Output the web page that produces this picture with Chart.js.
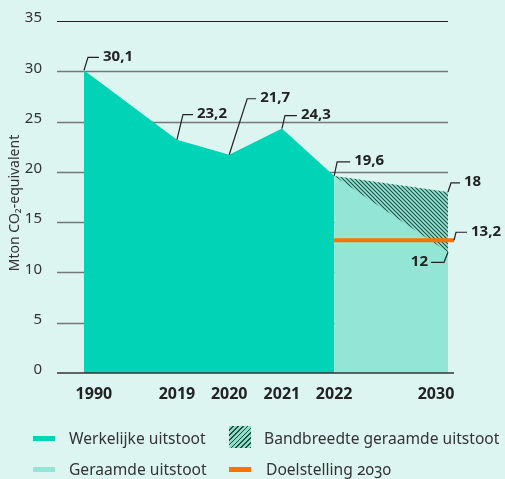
<!DOCTYPE html>
<html lang="nl">
<head>
    <meta charset="UTF-8">
    <title>Uitstoot broeikasgassen</title>
    <script src="https://cdn.jsdelivr.net/npm/chart.js@4/dist/chart.umd.min.js"></script>
    <style>
        body {
            margin: 0;
            background: #ddf5f0;
            font-family: 'Noto Sans', sans-serif;
            color: #333;
        }
        .wrap {
            position: relative;
            width: 505px;
            height: 479px;
        }
        canvas {
            position: absolute;
            left: 0;
            top: 0;
        }
        .legend div {
            position: absolute;
            font-size: 15.6px;
            line-height: 20px;
            white-space: nowrap;
        }
        .sw {
            position: absolute;
            width: 22px;
            height: 5px;
        }
        .hatch {
            position: absolute;
            width: 22px;
            height: 22px;
            background: repeating-linear-gradient(-45deg, #1f4d41 0 1.2px, #8fdcc9 1.2px 3.4px);
        }
        .onum { font-variant-numeric: oldstyle-nums; }
    </style>
</head>
<body>
<div class="wrap">
    <canvas id="chart" width="505" height="479"></canvas>
    <div class="legend">
        <span class="sw" style="left:33px;top:436px;background:#00d3b6"></span>
        <div style="left:69px;top:428px">Werkelijke uitstoot</div>
        <span class="hatch" style="left:229px;top:426px"></span>
        <div style="left:264px;top:428px">Bandbreedte geraamde uitstoot</div>
        <span class="sw" style="left:33px;top:467px;background:#93e6d5"></span>
        <div style="left:69px;top:459px">Geraamde uitstoot</div>
        <span class="sw" style="left:229px;top:467px;background:#ff7200"></span>
        <div style="left:266px;top:459px">Doelstelling <span class="onum">2030</span></div>
    </div>
</div>

<script>
    // data
    const years = ['1990', '2019', '2020', '2021', '2022', '2030'];
    const xSlot = [0, 1.78, 2.78, 3.79, 4.79, 6.97];   // axis position of each year
    const werkelijk = [30.1, 23.2, 21.7, 24.3, 19.6];  // 1990 - 2022
    const geraamdHoog = [19.6, 18];                    // 2022, 2030
    const geraamdLaag = [19.6, 12];                    // 2022, 2030
    const doelstelling = 13.2;

    const X_MIN = -0.517;
    const X_MAX = 7.085;
    const FONT = '"Noto Sans", sans-serif';

    const nl = v => String(v).replace('.', ',');
    const pts = (xs, ys) => ys.map((y, i) => ({ x: xs[i], y: y }));

    // hatch for the band
    function makeHatch() {
        const c = document.createElement('canvas');
        c.width = 4;
        c.height = 4;
        const g = c.getContext('2d');
        g.strokeStyle = '#1f4d41';
        g.lineWidth = 1.1;
        g.beginPath();
        g.moveTo(-1, -1); g.lineTo(5, 5);
        g.moveTo(-1, 3); g.lineTo(1, 5);
        g.moveTo(3, -1); g.lineTo(5, 1);
        g.stroke();
        return g.createPattern(c, 'repeat');
    }

    // leader lines + value labels
    const notes = [
        { x: xSlot[0], y: werkelijk[0], dx: 4, rise: 13, run: 11 },
        { x: xSlot[1], y: werkelijk[1], dx: 6, rise: 25, run: 10 },
        { x: xSlot[2], y: werkelijk[2], dx: 18, rise: 56, run: 9 },
        { x: xSlot[3], y: werkelijk[3], dx: 3, rise: 13, run: 12 },
        { x: xSlot[4], y: werkelijk[4], dx: 3, rise: 14, run: 13 },
        { x: xSlot[5], y: geraamdHoog[1], dx: 3, rise: 9, run: 9 },
        { x: X_MAX, y: doelstelling, dx: 2, rise: 8, run: 11 },
        { x: xSlot[5], y: geraamdLaag[1], dx: -4, rise: -10, run: -13 }
    ];

    const extras = {
        id: 'extras',
        beforeDatasetsDraw(chart) {
            const { ctx, chartArea, scales } = chart;
            const xEnd = scales.x.getPixelForValue(xSlot[5]);
            ctx.save();
            for (let v = 5; v <= 35; v += 5) {
                const y = Math.round(scales.y.getPixelForValue(v)) + 0.5;
                ctx.strokeStyle = v === 35 ? '#222' : '#777';
                ctx.lineWidth = v === 35 ? 1 : 1.5;
                ctx.beginPath();
                ctx.moveTo(chartArea.left, y);
                ctx.lineTo(xEnd, y);
                ctx.stroke();
            }
            ctx.restore();
        },
        afterDatasetsDraw(chart) {
            const { ctx, chartArea, scales } = chart;
            ctx.save();
            // base line
            const y0 = scales.y.getPixelForValue(0);
            ctx.strokeStyle = '#333';
            ctx.lineWidth = 1.5;
            ctx.beginPath();
            ctx.moveTo(chartArea.left, y0);
            ctx.lineTo(chartArea.right, y0);
            ctx.stroke();

            // labels
            ctx.font = 'bold 15px ' + FONT;
            ctx.fillStyle = '#222';
            ctx.strokeStyle = '#222';
            ctx.lineWidth = 1.2;
            ctx.textBaseline = 'middle';
            notes.forEach(n => {
                const px = scales.x.getPixelForValue(n.x);
                const py = scales.y.getPixelForValue(n.y);
                const ex = px + n.dx;
                const ey = py - n.rise;
                ctx.beginPath();
                ctx.moveTo(px, py);
                ctx.lineTo(ex, ey);
                ctx.lineTo(ex + n.run, ey);
                ctx.stroke();
                ctx.textAlign = n.run < 0 ? 'right' : 'left';
                ctx.fillText(nl(n.y), ex + n.run + (n.run < 0 ? -3 : 4), ey - 1);
            });

            // y title
            ctx.font = '14px ' + FONT;
            ctx.fillStyle = '#333';
            ctx.textAlign = 'center';
            ctx.translate(15, 203);
            ctx.rotate(-Math.PI / 2);
            ctx.fillText('Mton CO\u2082-equivalent', 0, 0);
            ctx.restore();
        }
    };

    const labelNudge = [0.19, 0, 0, 0, 0, -0.23];

    new Chart(document.getElementById('chart'), {
        type: 'line',
        data: {
            datasets: [
                {
                    label: 'Doelstelling 2030',
                    data: [{ x: xSlot[4], y: doelstelling }, { x: X_MAX, y: doelstelling }],
                    borderColor: '#ff7200',
                    borderWidth: 4,
                    borderCapStyle: 'butt',
                    pointRadius: 0,
                    fill: false,
                    order: 0
                },
                {
                    label: 'Bandbreedte geraamde uitstoot',
                    data: pts(xSlot.slice(4), geraamdHoog),
                    borderColor: 'transparent',
                    borderWidth: 0,
                    pointRadius: 0,
                    backgroundColor: makeHatch(),
                    fill: '+1',
                    order: 1
                },
                {
                    label: 'ondergrens',
                    data: pts(xSlot.slice(4), geraamdLaag),
                    borderColor: 'transparent',
                    borderWidth: 0,
                    pointRadius: 0,
                    fill: false,
                    order: 1
                },
                {
                    label: 'Geraamde uitstoot',
                    data: pts(xSlot.slice(4), geraamdHoog),
                    borderColor: 'transparent',
                    borderWidth: 0,
                    pointRadius: 0,
                    backgroundColor: '#93e6d5',
                    fill: 'origin',
                    order: 2
                },
                {
                    label: 'Werkelijke uitstoot',
                    data: pts(xSlot, werkelijk),
                    borderColor: 'transparent',
                    borderWidth: 0,
                    pointRadius: 0,
                    backgroundColor: '#00d3b6',
                    fill: 'origin',
                    order: 3
                }
            ]
        },
        options: {
            responsive: false,
            animation: false,
            layout: { padding: { top: 21, right: 51, bottom: 76, left: 0 } },
            plugins: {
                legend: { display: false },
                tooltip: { enabled: false }
            },
            scales: {
                x: {
                    type: 'linear',
                    min: X_MIN,
                    max: X_MAX,
                    grid: { display: false },
                    border: { display: false },
                    afterBuildTicks: s => {
                        s.ticks = xSlot.map((v, i) => ({ value: v + labelNudge[i] }));
                    },
                    afterFit: s => { s.height = 30; },
                    ticks: {
                        autoSkip: false,
                        maxRotation: 0,
                        padding: 4,
                        color: '#222',
                        font: { family: FONT, size: 16, weight: 'bold' },
                        callback: (v, i) => years[i]
                    }
                },
                y: {
                    min: 0,
                    max: 35,
                    grid: { display: false },
                    border: { display: false },
                    afterFit: s => { s.width = 57; },
                    ticks: {
                        stepSize: 5,
                        padding: 7,
                        labelOffset: -3,
                        color: '#333',
                        font: { family: FONT, size: 15 }
                    }
                }
            }
        },
        plugins: [extras]
    });
</script>
</body>
</html>
